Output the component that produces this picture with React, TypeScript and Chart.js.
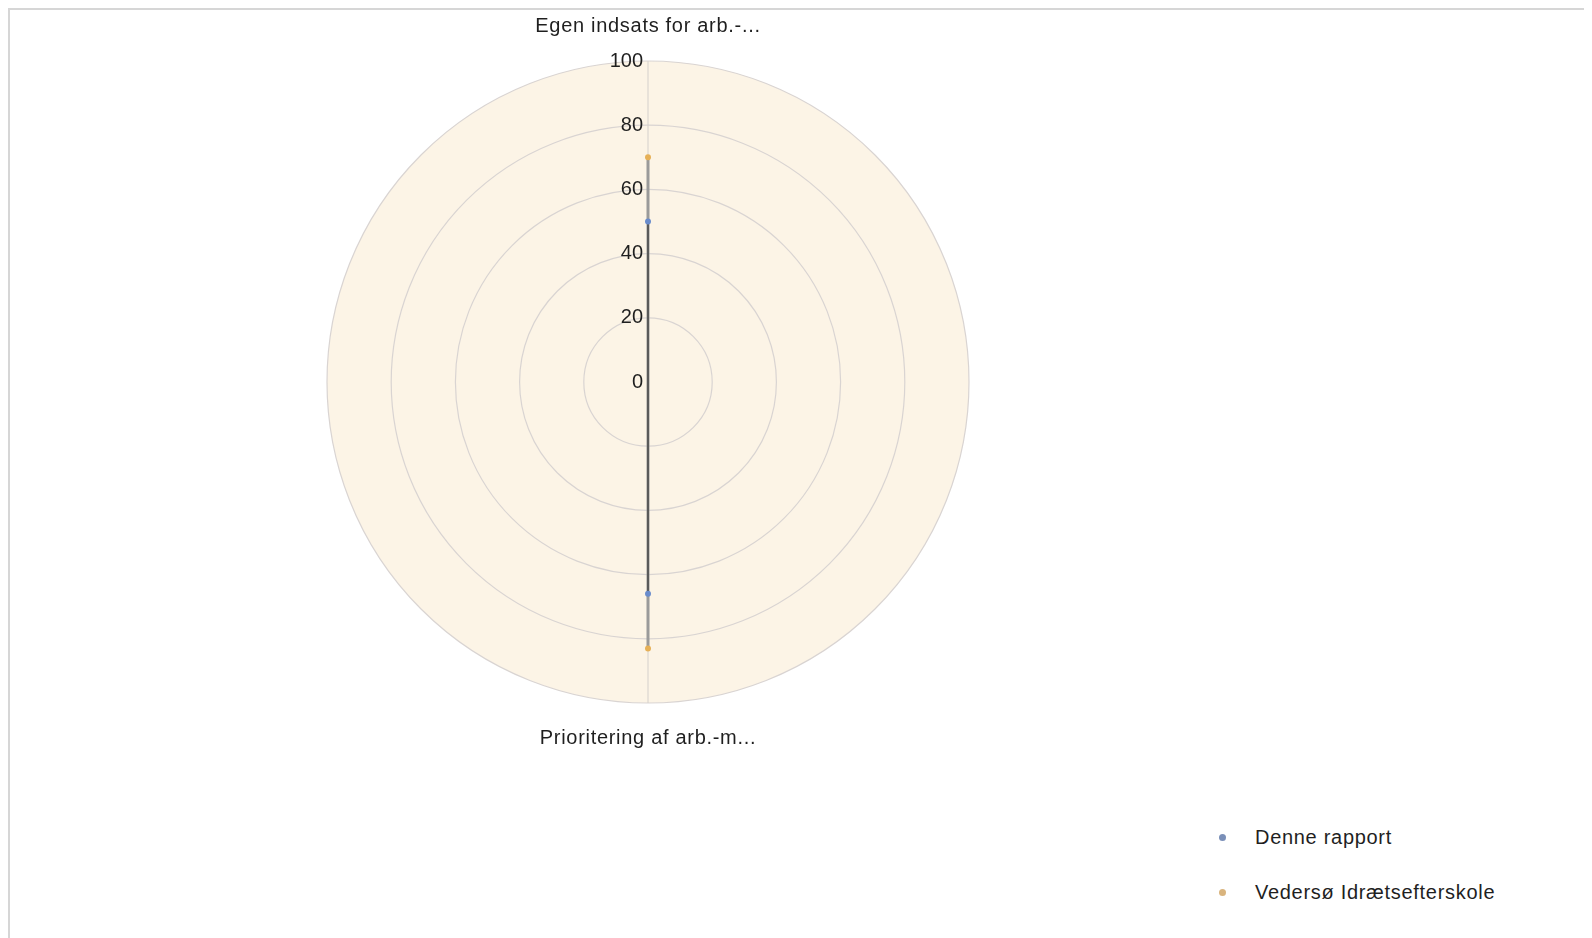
import React, { useEffect, useRef } from "react";
import { Chart, registerables } from "chart.js";

Chart.register(...registerables);

const categories = ["Egen indsats for arb.-...", "Prioritering af arb.-m..."];
const seriesNames = ["Denne rapport", "Vedersø Idrætsefterskole"];
const denneRapport = [50, 66];
const vedersoe = [70, 83];
const tickValues = [0, 20, 40, 60, 80, 100];
const pointColors = ["#6a8ccc", "#e6b057"];
const legendColors = ["#7a8fb8", "#d9b47e"];
const lineColors = ["#5a5a5a", "#9a9a9a"];

const FONT = "'Liberation Sans', Arial, sans-serif";

const spacingPlugin = {
  id: "spacing",
  beforeDraw(chart: any) {
    chart.ctx.letterSpacing = "0.7px";
  },
};

const tickPlugin = {
  id: "rightTicks",
  afterDatasetsDraw(chart: any) {
    const scale = chart.scales.r;
    const ctx = chart.ctx;
    ctx.save();
    ctx.letterSpacing = "0px";
    ctx.font = `20px ${FONT}`;
    ctx.fillStyle = "#1f1f1f";
    ctx.textAlign = "right";
    ctx.textBaseline = "middle";
    tickValues.forEach((v) => {
      const d = scale.getDistanceFromCenterForValue(v);
      ctx.fillText(String(v), scale.xCenter - 5, scale.yCenter - d);
    });
    ctx.restore();
  },
};

export default function App() {
  const ref = useRef<HTMLCanvasElement | null>(null);
  useEffect(() => {
    if (!ref.current) return;
    const chart = new Chart(ref.current, {
      type: "radar",
      data: {
        labels: categories,
        datasets: [
          {
            label: seriesNames[0],
            data: denneRapport,
            borderColor: lineColors[0],
            borderWidth: 2,
            backgroundColor: "transparent",
            fill: false,
            pointRadius: 3,
            pointBorderWidth: 0,
            pointBackgroundColor: pointColors[0],
          },
          {
            label: seriesNames[1],
            data: vedersoe,
            borderColor: lineColors[1],
            borderWidth: 3,
            backgroundColor: "transparent",
            fill: false,
            pointRadius: 3,
            pointBorderWidth: 0,
            pointBackgroundColor: pointColors[1],
          },
        ],
      },
      options: {
        animation: false,
        responsive: false,
        maintainAspectRatio: false,
        layout: { padding: { top: 4, bottom: 20, left: 0, right: 0 } },
        plugins: { legend: { display: false }, tooltip: { enabled: false } },
        scales: {
          r: {
            min: 0,
            max: 100,
            backgroundColor: "#fcf4e6",
            ticks: { display: false, stepSize: 20 },
            grid: { circular: true, color: "#d9d4d2", lineWidth: 1.2 },
            angleLines: { color: "#d4d0cc", lineWidth: 1 },
            pointLabels: {
              font: { family: FONT, size: 20 },
              color: "#1f1f1f",
              padding: 23,
            },
          },
        },
      },
      plugins: [spacingPlugin, tickPlugin],
    });
    return () => chart.destroy();
  }, []);

  return (
    <div
      style={{
        position: "relative",
        width: 1584,
        height: 930,
        boxSizing: "border-box",
        borderTop: "2px solid #d6d6d6",
        borderLeft: "2px solid #d6d6d6",
        fontFamily: FONT,
      }}
    >
      <canvas
        ref={ref}
        width={1276}
        height={760}
        style={{ position: "absolute", left: 0, top: 0, width: 1276, height: 760 }}
      />
      {seriesNames.map((name, i) => (
        <div
          key={name}
          style={{
            position: "absolute",
            left: 1209,
            top: 815 + i * 55,
            height: 24,
            display: "flex",
            alignItems: "center",
            fontSize: 20,
            letterSpacing: "0.7px",
            color: "#1f1f1f",
            whiteSpace: "nowrap",
          }}
        >
          <span
            style={{
              display: "inline-block",
              width: 7,
              height: 7,
              borderRadius: "50%",
              background: legendColors[i],
              marginRight: 29,
            }}
          />
          {name}
        </div>
      ))}
    </div>
  );
}
